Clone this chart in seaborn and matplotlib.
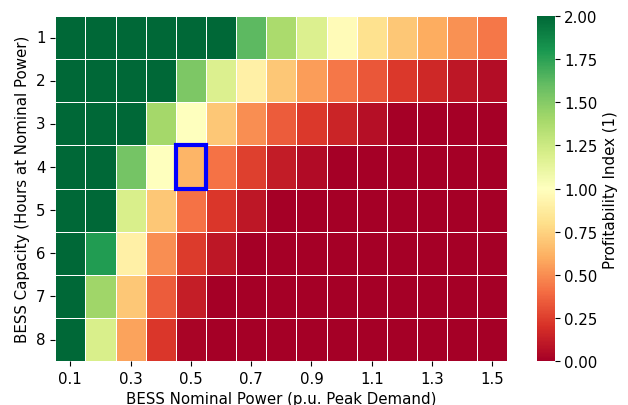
import numpy as np
import pandas as pd
import matplotlib
matplotlib.use("Agg")
import matplotlib.pyplot as plt
import seaborn as sns
from matplotlib.patches import Rectangle

power = [0.1, 0.2, 0.3, 0.4, 0.5, 0.6, 0.7, 0.8, 0.9, 1.0, 1.1, 1.2, 1.3, 1.4, 1.5]
hours = [1, 2, 3, 4, 5, 6, 7, 8]

row1 = [2.6, 2.5, 2.4, 2.3, 2.2, 2.05, 1.62, 1.38, 1.18, 0.97, 0.82, 0.70, 0.60, 0.51, 0.43]
row2 = [2.6, 2.5, 2.4, 2.2, 1.53, 1.18, 0.90, 0.70, 0.55, 0.43, 0.33, 0.23, 0.17, 0.10, 0.06]
row3 = [2.6, 2.5, 2.2, 1.40, 1.00, 0.70, 0.50, 0.35, 0.23, 0.15, 0.07, 0.0, 0.0, 0.0, 0.0]
row4 = [2.5, 2.3, 1.55, 1.00, 0.63, 0.42, 0.25, 0.12, 0.05, 0.0, 0.0, 0.0, 0.0, 0.0, 0.0]
row5 = [2.4, 2.1, 1.20, 0.70, 0.42, 0.22, 0.10, 0.0, 0.0, 0.0, 0.0, 0.0, 0.0, 0.0, 0.0]
row6 = [2.3, 1.78, 0.90, 0.50, 0.24, 0.10, 0.0, 0.0, 0.0, 0.0, 0.0, 0.0, 0.0, 0.0, 0.0]
row7 = [2.2, 1.42, 0.70, 0.35, 0.13, 0.0, 0.0, 0.0, 0.0, 0.0, 0.0, 0.0, 0.0, 0.0, 0.0]
row8 = [2.1, 1.20, 0.57, 0.22, 0.02, 0.0, 0.0, 0.0, 0.0, 0.0, 0.0, 0.0, 0.0, 0.0, 0.0]

df = pd.DataFrame([row1, row2, row3, row4, row5, row6, row7, row8],
                  index=hours, columns=power)

fs = 10.8
fig = plt.figure(figsize=(6.28, 4.06), dpi=100)
ax = fig.add_axes([0.088, 0.108, 0.72, 0.85])
cax = fig.add_axes([0.855, 0.108, 0.028, 0.85])

sns.heatmap(df, cmap="RdYlGn", vmin=0, vmax=2, linewidths=0.5, linecolor="white",
            ax=ax, cbar_ax=cax, cbar_kws={"label": "Profitability Index (1)",
                                          "ticks": [0, 0.25, 0.5, 0.75, 1.0, 1.25, 1.5, 1.75, 2.0]})
cax.yaxis.set_major_formatter(matplotlib.ticker.FormatStrFormatter("%.2f"))
cax.tick_params(labelsize=fs)
cax.yaxis.label.set_size(fs)

xt = np.arange(0, len(power), 2) + 0.5
ax.set_xticks(xt)
ax.set_xticklabels([f"{power[i]:.1f}" for i in range(0, len(power), 2)], rotation=0, fontsize=fs)
ax.set_yticks(np.arange(len(hours)) + 0.5)
ax.set_yticklabels([str(h) for h in hours], rotation=0, fontsize=fs)
ax.set_xlabel("BESS Nominal Power (p.u. Peak Demand)", fontsize=fs, labelpad=4)
ax.set_ylabel("BESS Capacity (Hours at Nominal Power)", fontsize=fs, labelpad=4)

ax.add_patch(Rectangle((4, 3), 1, 1, fill=False, edgecolor="blue", linewidth=3, zorder=5))

fig.savefig("out.png", dpi=100)
